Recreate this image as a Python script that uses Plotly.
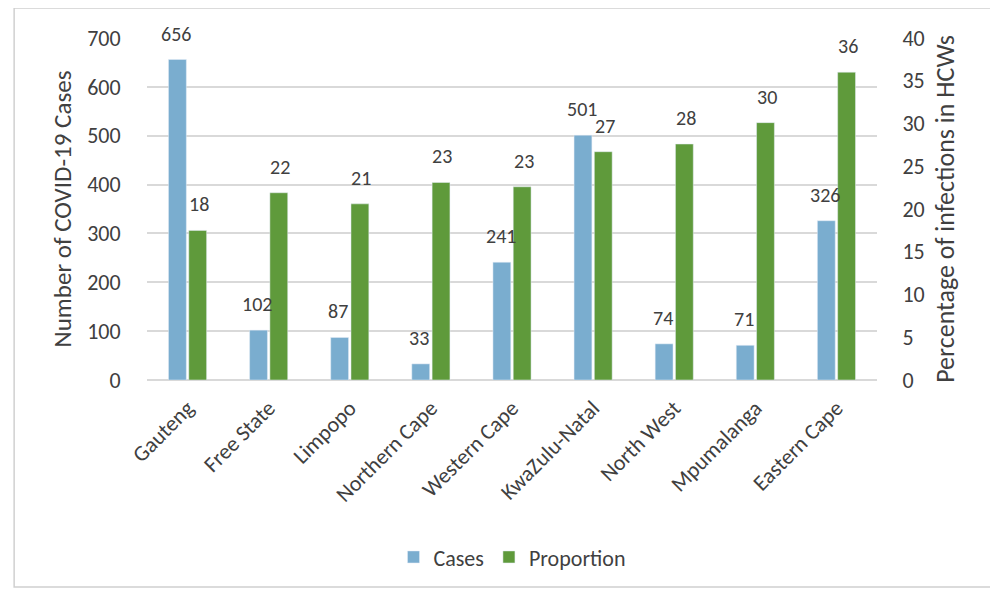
import plotly.graph_objects as go

provinces = ["Gauteng", "Free State", "Limpopo", "Northern Cape", "Western Cape",
             "KwaZulu-Natal", "North West", "Mpumalanga", "Eastern Cape"]
cases = [656, 102, 87, 33, 241, 501, 74, 71, 326]
proportion = [17.5, 21.9, 20.6, 23.1, 22.6, 26.7, 27.6, 30.1, 36.0]

left_ticks = [0, 100, 200, 300, 400, 500, 600, 700]
right_ticks = [0, 5, 10, 15, 20, 25, 30, 35, 40]

FONT = "Carlito, Lato, sans-serif"
TXT = "#404040"
BLUE = "#7AADCF"
GREEN = "#5F9A3B"

fig = go.Figure()
fig.add_trace(go.Bar(
    x=provinces, y=cases, name="Cases", marker_color=BLUE,
    offsetgroup="1", yaxis="y",
))
fig.add_trace(go.Bar(
    x=provinces, y=proportion, name="Proportion", marker_color=GREEN,
    offsetgroup="2", yaxis="y2",
))

annotations = []
for p, v in zip(provinces, cases):
    annotations.append(dict(
        x=p, y=v, xref="x", yref="y", text=str(v), showarrow=False,
        xshift=-11.5, yshift=26, yanchor="middle",
        font=dict(size=20, color=TXT, family=FONT),
    ))
for p, v in zip(provinces, proportion):
    annotations.append(dict(
        x=p, y=v, xref="x", yref="y2", text=str(round(v)), showarrow=False,
        xshift=11.5, yshift=26, yanchor="middle",
        font=dict(size=20, color=TXT, family=FONT),
    ))

fig.update_layout(
    width=990, height=582,
    margin=dict(l=139, r=121, t=30, b=210),
    paper_bgcolor="white", plot_bgcolor="white",
    font=dict(family=FONT, color=TXT, size=20),
    barmode="group", bargap=0.5, bargroupgap=0.12,
    xaxis=dict(
        tickangle=-45, tickfont=dict(size=22, color=TXT),
        showgrid=False, showline=False, ticks="", automargin=False,
        ticklabelstandoff=10,
    ),
    yaxis=dict(
        range=[0, 700], tickvals=left_ticks, automargin=False,
        showgrid=True, gridcolor="#D9D9D9", gridwidth=1.5,
        zeroline=True, zerolinecolor="#D9D9D9", zerolinewidth=1.5,
        ticks="outside", ticklen=21, tickcolor="rgba(0,0,0,0)",
        tickfont=dict(size=22, color=TXT),
        title=dict(text="Number of COVID-19 Cases", font=dict(size=25, color=TXT), standoff=8),
    ),
    yaxis2=dict(
        range=[0, 40], tickvals=right_ticks, overlaying="y", side="right",
        showgrid=False, zeroline=False, automargin=False,
        ticks="outside", ticklen=20, tickcolor="rgba(0,0,0,0)",
        tickfont=dict(size=22, color=TXT),
        title=dict(text="Percentage of infections in HCWs", font=dict(size=26, color=TXT), standoff=12),
    ),
    legend=dict(
        orientation="h", x=0.5, xanchor="center", y=-0.518, yanchor="middle",
        font=dict(size=22, color=TXT), itemwidth=30,
    ),
    showlegend=True,
    annotations=annotations,
    shapes=[dict(
        type="rect", xref="paper", yref="paper",
        x0=-0.182, x1=1.160, y0=-0.605, y1=1.088,
        line=dict(color="#D0D0D0", width=1.5), fillcolor="rgba(0,0,0,0)", layer="below",
    )],
)

fig.write_html("out.html")
